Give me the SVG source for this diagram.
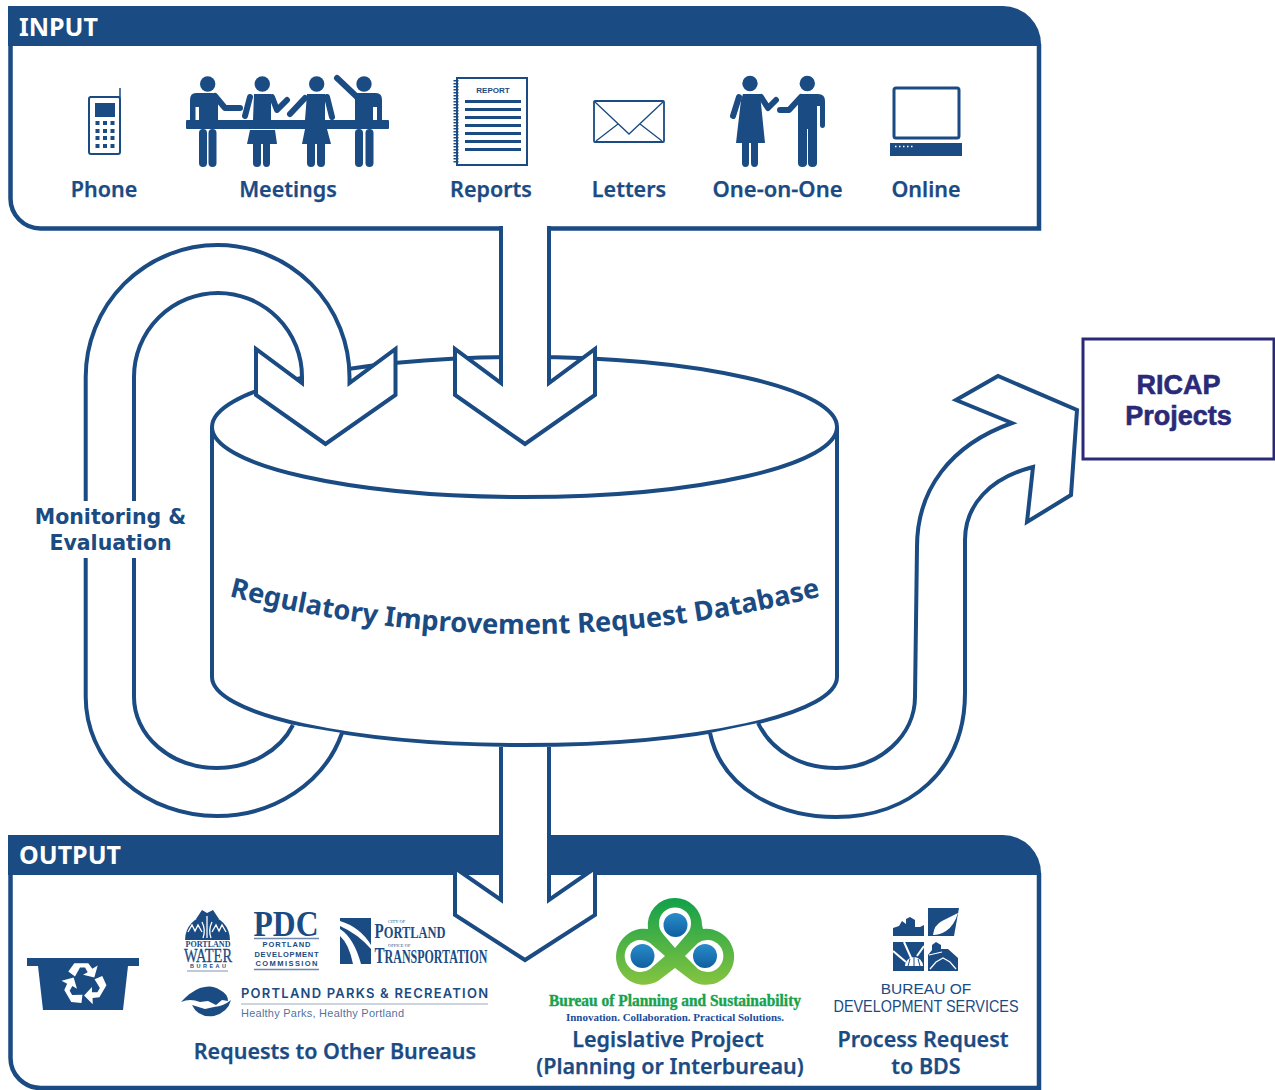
<svg xmlns="http://www.w3.org/2000/svg" width="1275" height="1090" viewBox="0 0 1275 1090">
<defs>
<style>
.ln{fill:none;stroke:#1b4b83;stroke-width:4}
.b{fill:#1b4b83}
.bs{fill:none;stroke:#1b4b83}
.arm{fill:none;stroke:#1b4b83;stroke-width:6;stroke-linecap:round;stroke-linejoin:round}
.lab{font-family:"Noto Sans","Open Sans",sans-serif;font-weight:600;fill:#1b4b83;stroke:#1b4b83;stroke-width:.25;text-anchor:middle;font-size:21.500px}
.hd{font-family:"Noto Sans","Open Sans",sans-serif;font-weight:700;fill:#fff;font-size:25px}
.srf{font-family:"Liberation Serif",serif;fill:#1b4b83}
.sans{font-family:"Liberation Sans",sans-serif;fill:#1b4b83}
.cap{font-family:"Inter",sans-serif;font-weight:600;fill:#1b4b83}
</style>
<linearGradient id="gr" x1="0" y1="0" x2="0" y2="1"><stop offset="0" stop-color="#12a04a"/><stop offset="1" stop-color="#86c440"/></linearGradient>
<linearGradient id="bl" x1="0" y1="0" x2="0" y2="1"><stop offset="0" stop-color="#2a8ccb"/><stop offset="1" stop-color="#0f5f9f"/></linearGradient>
<polygon id="rarm" points="-15.700,-12 -9.700,-20.300 4.300,-20.300 8.300,-14.700 13.700,-18 10.300,-6 -1,-8.700 3.700,-11.300 1,-16 -4,-16 -9,-7"/>
</defs>

<g id="input">
<path class="b" d="M8,6 H1003 A38,38 0 0 1 1041,44 V46 H8Z"/>
<path class="ln" style="stroke-width:4.500" d="M10.500,44 V198 A30,30 0 0 0 40.500,228.500 H1039 V44"/>
<text class="hd" x="19" y="35.500">INPUT</text>

<g id="phone">
<rect x="89" y="97" width="31" height="57" rx="2" fill="#fff" stroke="#1b4b83" stroke-width="2"/>
<path class="bs" stroke-width="1.500" d="M90,97 H120 V88"/>
<rect class="b" x="95" y="103" width="20" height="14"/>
<g class="b"><rect x="95.500" y="121" width="4" height="4"/><rect x="103" y="121" width="4" height="4"/><rect x="110.500" y="121" width="4" height="4"/><rect x="95.500" y="129" width="4" height="4"/><rect x="103" y="129" width="4" height="4"/><rect x="110.500" y="129" width="4" height="4"/><rect x="95.500" y="136" width="4" height="4"/><rect x="103" y="136" width="4" height="4"/><rect x="110.500" y="136" width="4" height="4"/><rect x="95.500" y="144" width="4" height="4"/><rect x="103" y="144" width="4" height="4"/><rect x="110.500" y="144" width="4" height="4"/></g>
<text class="lab" x="104" y="196.500">Phone</text>
</g>

<g id="meetings">
<g class="b">
<circle cx="207.700" cy="84" r="7.700"/>
<path d="M196,93 H212 Q216,93 218,96 V120 H199 V107 H195.500 V120 H190 V100 Q190,93 196,93Z"/>
<rect x="199" y="129" width="8" height="38" rx="4"/><rect x="208.500" y="129" width="8" height="38" rx="4"/>
<circle cx="262.300" cy="84" r="7.700"/>
<path d="M254,94 H271 L271,120 H253Z"/>
<path d="M250,130 H275 L277,144 H270 V163 Q270,167 266.500,167 Q263,167 263,163 V144 H261 V163 Q261,167 257,167 Q253,167 253,163 V144 H247Z"/>
<circle cx="316.700" cy="84" r="7.700"/>
<path d="M307,94 H325 L325,120 H305Z"/>
<path d="M305,129 H327 L331,144 H325 V163 Q325,167 321,167 Q317,167 317,163 V144 H315 V163 Q315,167 311,167 Q307,167 307,163 V144 H302Z"/>
<circle cx="364" cy="84" r="7.700"/>
<path d="M353,93 H376 Q382,93 382,100 V120 H377 V107 H373 V120 H355 V100Z"/>
<rect x="355" y="129" width="8" height="38" rx="4"/><rect x="365.500" y="129" width="8" height="38" rx="4"/>
<rect x="186" y="120" width="203" height="9" rx="1"/>
</g>
<path class="arm" d="M215,96 L225,108 H240"/>
<path class="arm" stroke-width="5" d="M250,97 L245,116 M272,97 L277,110 L287,100"/>
<path class="arm" d="M305,98 L290,114 M327,97 L332,117"/>
<path class="arm" d="M337,78 L356,96"/>
<text class="lab" x="288" y="196.500">Meetings</text>
</g>

<g id="reports">
<rect x="457" y="78" width="70" height="87" fill="#fff" stroke="#1b4b83" stroke-width="2"/>
<path class="bs" stroke-width="5" stroke-dasharray="1.500 1.500" d="M456,80 V164"/>
<text class="sans" x="493" y="92.500" font-size="8" font-weight="700" text-anchor="middle">REPORT</text>
<g class="b"><rect x="465" y="100" width="56" height="3"/><rect x="465" y="108" width="56" height="3"/><rect x="465" y="116" width="56" height="3"/><rect x="465" y="124" width="56" height="3"/><rect x="465" y="132" width="56" height="3"/><rect x="465" y="140" width="56" height="3"/><rect x="465" y="148" width="56" height="3"/></g>
<text class="lab" x="491" y="196.500">Reports</text>
</g>

<g id="letters">
<rect x="594" y="101" width="70" height="41" rx="1" fill="#fff" stroke="#1b4b83" stroke-width="1.800"/>
<path class="bs" stroke-width="1.300" d="M595,102 L629,134 L663,102 M596,141 L618,124 M662,141 L640,124"/>
<text class="lab" x="629" y="196.500">Letters</text>
</g>

<g id="one-on-one">
<g class="b">
<circle cx="750" cy="83.500" r="7.700"/>
<path d="M743,94 H760 L765,143 H758 V163 Q758,167 754.500,167 Q751,167 751,163 V143 H749 V163 Q749,167 745.500,167 Q742,167 742,163 V143 H736 L741,100Z"/>
<circle cx="807.300" cy="83.500" r="7.700"/>
<path d="M801,94 H818 Q825,94 825,101 V125 Q825,128 822.500,128 Q820,128 820,125 V106 L817,106 V163 Q817,167 812.500,167 Q808,167 808,163 V129 H807 V163 Q807,167 802.500,167 Q798,167 798,163 V104Z"/>
</g>
<path class="arm" stroke-width="5" d="M739,97 L733,116 M761,97 L768,108 L776,100"/>
<path class="arm" stroke-width="6" d="M801,97 L789,110 H780"/>
<text class="lab" x="777.500" y="196.500" style="font-size:22px">One-on-One</text>
</g>

<g id="online">
<rect x="894" y="88" width="65" height="50" rx="2" fill="#fff" stroke="#1b4b83" stroke-width="3"/>
<rect class="b" x="890" y="143" width="72" height="13"/>
<path stroke="#fff" stroke-width="1.300" stroke-dasharray="1.500 2.500" d="M895,146.500 H915"/>
<text class="lab" x="926" y="196.500">Online</text>
</g>
</g>

<g id="database">
<path d="M212,427 A312.500,70 0 0 1 837,427 V677 A312.500,68 0 0 1 212,677Z" fill="#fff" stroke="#1b4b83" stroke-width="4"/>
<path class="ln" d="M212,427 A312.500,70 0 0 0 837,427"/>
<path id="dbp" d="M228,596 Q525,672 822,596" fill="none"/>
<text font-family="Noto Sans,Open Sans,sans-serif" font-weight="700" font-size="27.300" fill="#1b4b83" text-anchor="middle"><textPath href="#dbp" startOffset="50%">Regulatory Improvement Request Database</textPath></text>
</g>

<g id="output">
<path class="b" d="M8,835 H1003 A38,38 0 0 1 1041,873 V875 H8Z"/>
<path class="ln" style="stroke-width:4.500" d="M10.500,873 V1058 A30,30 0 0 0 40.500,1088 H1039 V873"/>
<text class="hd" x="19" y="864">OUTPUT</text>

<g id="bin">
<rect class="b" x="27" y="958" width="112" height="8"/>
<path class="b" d="M38,966 H128 L123,1010 H43Z"/>
<g fill="#fff" transform="translate(84,983.500)"><use href="#rarm"/><use href="#rarm" transform="rotate(120)"/><use href="#rarm" transform="rotate(240)"/></g>
</g>

<g id="water">
<path class="b" d="M185,940 A22.500,24 0 0 1 230,940Z"/>
<path class="b" d="M196,919 L202,910 L207,913 L213,910 L219,919Z"/>
<path stroke="#fff" stroke-width="1.300" fill="none" d="M188,932 L192,925 L195,931 L198,925 L202,932 M212,932 L216,925 L219,931 L222,925 L226,932 M207,916 V938 M202,922 Q206,930 203,938 M212,922 Q208,930 211,938"/>
<text class="srf" x="208" y="946.500" font-size="9" font-weight="700" text-anchor="middle" textLength="45" lengthAdjust="spacingAndGlyphs">PORTLAND</text>
<text class="srf" x="208" y="961.500" font-size="19" text-anchor="middle" textLength="48" lengthAdjust="spacingAndGlyphs" stroke="#1b4b83" stroke-width=".3">WATER</text>
<text class="sans" x="208" y="968" font-size="5.500" font-weight="700" text-anchor="middle" textLength="36">BUREAU</text>
<path stroke="#7f95b4" stroke-width="1.200" d="M187,971 H228"/>
</g>

<g id="pdc">
<text class="srf" x="286" y="936" font-size="35" font-weight="700" text-anchor="middle" textLength="65" lengthAdjust="spacingAndGlyphs">PDC</text>
<path stroke="#6f88ad" stroke-width="1.500" d="M254,938.500 H319 M254,969.500 H319"/>
<text class="sans" x="286.500" y="947" font-size="7.500" font-weight="700" text-anchor="middle" textLength="48">PORTLAND</text>
<text class="sans" x="286.500" y="956.500" font-size="7.500" font-weight="700" text-anchor="middle" textLength="64">DEVELOPMENT</text>
<text class="sans" x="286.500" y="966" font-size="7.500" font-weight="700" text-anchor="middle" textLength="62">COMMISSION</text>
</g>

<g id="pbot">
<rect class="b" x="340" y="918" width="31" height="46"/>
<path fill="#fff" d="M340,921 Q360,927 371,945 V949 Q358,934 340,926Z M340,929 Q354,938 361,964 H353 Q349,944 340,936Z"/>
<text class="srf" x="388" y="922.500" font-size="4.500">CITY OF</text>
<text class="srf" x="374.500" y="938" font-size="20" font-weight="700" textLength="71" lengthAdjust="spacingAndGlyphs">P<tspan font-size="16.500">ORTLAND</tspan></text>
<text class="srf" x="388" y="946.500" font-size="4.500">OFFICE OF</text>
<text class="srf" x="374.500" y="963" font-size="24" font-weight="700" textLength="113" lengthAdjust="spacingAndGlyphs">T<tspan font-size="19">RANSPORTATION</tspan></text>
</g>

<g id="parks">
<path class="b" d="M181,1002 Q190,992 200,988 Q212,984 220,990 Q228,994 228,1001 L222,1000 L216,1005 L208,1001 L200,1002 Q190,998 181,1002Z"/>
<path class="b" d="M192,1005 L205,1009 L214,1007 Q224,1006 231,1000 Q228,1012 214,1016 Q198,1018 192,1005Z"/>
<text class="cap" x="241" y="997.500" font-size="13" textLength="247">PORTLAND PARKS &amp; RECREATION</text>
<path stroke="#9aa9c2" stroke-width="1" d="M241,1004 H488"/>
<text class="sans" x="241" y="1017" font-size="11" textLength="163" fill-opacity=".8" font-family="Inter,sans-serif">Healthy Parks, Healthy Portland</text>
</g>

<text class="lab" x="335" y="1059">Requests to Other Bureaus</text>

<g id="planning">
<path fill="url(#gr)" d="M675,898 A27,27 0 0 1 702,925 L703,929 A28,28 0 1 1 692,981 L675,968 L658,981 A28,28 0 1 1 648,929 A27,27 0 0 1 675,898Z"/>
<g fill="#fff"><path d="M675,948 L663,934 A16,16 0 1 1 687,934Z"/><path d="M665,956 L650,969 A16,16 0 1 1 650,943Z"/><path d="M685,956 L698,943 A16,16 0 1 1 698,969Z"/></g>
<circle cx="675.500" cy="925" r="12" fill="url(#bl)"/><circle cx="642.500" cy="956" r="12" fill="url(#bl)"/><circle cx="705" cy="956" r="12" fill="url(#bl)"/>
<text x="675" y="1006" font-family="Liberation Serif,serif" font-weight="700" font-size="17" fill="#18a24c" text-anchor="middle" textLength="252" lengthAdjust="spacingAndGlyphs" stroke="#18a24c" stroke-width=".4">Bureau of Planning and Sustainability</text>
<text x="675" y="1021" font-family="Liberation Serif,serif" font-weight="700" font-size="10" fill="#1b4b99" text-anchor="middle" textLength="218" lengthAdjust="spacingAndGlyphs">Innovation. Collaboration. Practical Solutions.</text>
</g>
<text class="lab" x="668" y="1047">Legislative Project</text>
<text class="lab" x="670" y="1074">(Planning or Interbureau)</text>

<g id="bds">
<path class="b" d="M893,936 V928 L899,926 L902,921 L906,924 V919 L910,917 L915,920 V927 L920,927 L924,925 V936Z"/>
<path class="b" d="M928,908 H959 L954,936 H928Z"/>
<path fill="#fff" d="M933,935 Q934,925 942,921 Q950,917 958,913 Q954,926 946,931 Q940,935 933,935Z"/>
<rect class="b" x="893" y="942" width="31" height="29"/>
<path stroke="#fff" stroke-width="2" fill="none" d="M912,960 L904,942 M906,962 L893,951 M917,956 L924,946"/>
<path fill="#fff" d="M905,966 A9,9 0 0 1 923,966Z"/>
<path stroke="#1b4b83" stroke-width="1" fill="none" d="M910,959 L908,966 M914,957 V966 M918,959 L920,966"/>
<path class="b" d="M928,971 V955 L932,950 V945 L936,942 L941,945 V949 H948 L958,958 V971Z"/>
<path stroke="#fff" stroke-width="1.200" fill="none" d="M930,969 L936,962 L943,958 L950,962 L956,969 M929,955 L942,952"/>
<text class="sans" x="926" y="994" font-size="15.500" text-anchor="middle">BUREAU OF</text>
<text class="sans" x="926" y="1012" font-size="17" text-anchor="middle" textLength="185" lengthAdjust="spacingAndGlyphs">DEVELOPMENT SERVICES</text>
</g>
<text class="lab" x="923" y="1047">Process Request</text>
<text class="lab" x="926" y="1074">to BDS</text>
</g>

<g id="connectors">
<path id="loop" d="M342,733 A131,119 0 0 1 216.700,816 A131,119 0 0 1 85.700,697 V377 A131.900,132 0 0 1 349.500,377 V383 L395.500,349 V395 L325.500,444 L256,395 V349 L302,383 V377 A84,84 0 0 0 134,377 V697 A83,71 0 0 0 216.700,768 A83,71 0 0 0 293,725" fill="#fff" stroke="#1b4b83" stroke-width="4"/>
<path id="feed-in" d="M501,226 V383 L455,349 V395 L525,444 L595,395 V349 L549,383 V226" fill="#fff" stroke="#1b4b83" stroke-width="4"/>
<path id="feed-out" d="M501,747 V900 L455,868 V915 L525,960 L595,915 V868 L549,900 V747" fill="#fff" stroke="#1b4b83" stroke-width="4"/>
<path id="to-ricap" d="M710,733 C722,790 780,817 836,817 C910,817 965,770 965,693 V540 C965,505 990,478 1033,467 L1027,522 L1071,495 L1077,410 L998,376 L956,400 L1012,423 C950,445 917,490 917,547 L915,697 C915,735 880,768 836,768 C802,768 772,752 758,723" fill="#fff" stroke="#1b4b83" stroke-width="4"/>
</g>

<g id="monitoring">
<rect x="30" y="501" width="160" height="57" fill="#fff"/>
<text font-family="DejaVu Sans,sans-serif" font-weight="700" font-size="20.500" fill="#1b4b83" text-anchor="middle"><tspan x="110.500" y="524">Monitoring &amp;</tspan><tspan x="110.500" y="550">Evaluation</tspan></text>
</g>

<g id="ricap">
<rect x="1083" y="339" width="191" height="120" fill="#fff" stroke="#2a2a78" stroke-width="3"/>
<text font-family="Liberation Sans,sans-serif" font-weight="700" font-size="27" fill="#2a2a78" stroke="#2a2a78" stroke-width=".6" text-anchor="middle"><tspan x="1178.500" y="394">RICAP</tspan><tspan x="1178.500" y="425">Projects</tspan></text>
</g>
</svg>
